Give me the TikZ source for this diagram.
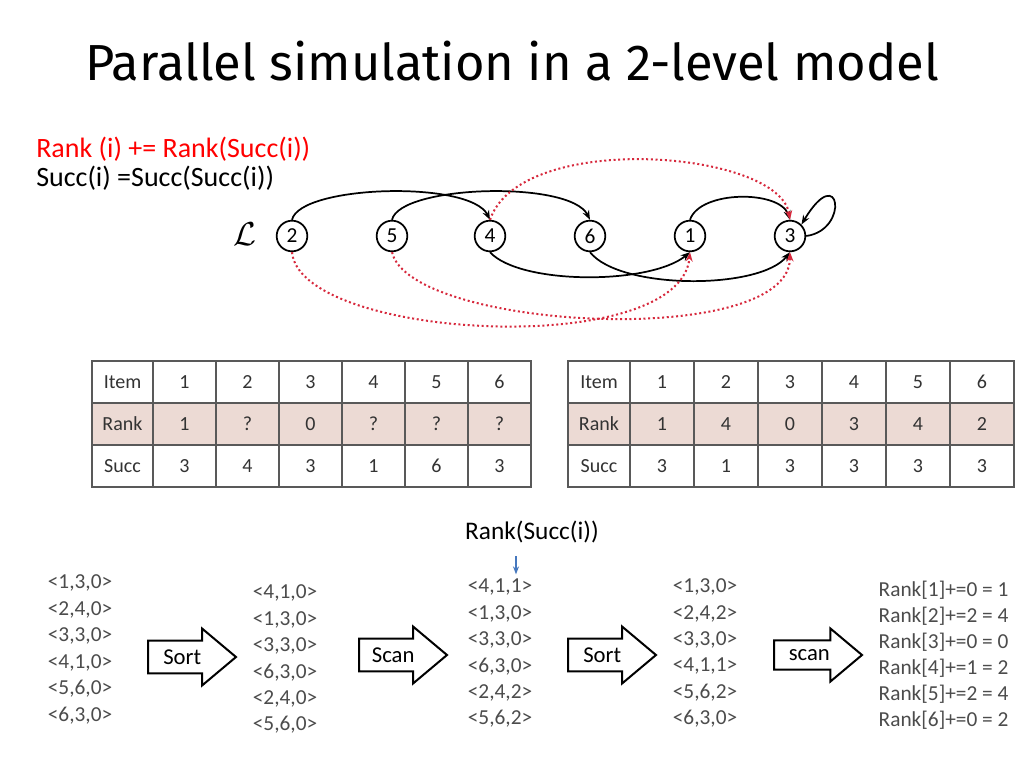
\documentclass[tikz,border=0pt]{standalone}
\usepackage{fontspec}
\setmainfont{Carlito}
\newfontfamily\titlefont{Fira Sans}
\usetikzlibrary{shapes.arrows,arrows.meta}
\definecolor{rankpink}{RGB}{236,218,212}
\definecolor{linered}{RGB}{215,40,60}
\definecolor{bluearr}{RGB}{70,120,190}
\begin{document}
\begin{tikzpicture}[x=0.75pt,y=-0.75pt,
  vtx/.style={circle,draw,line width=1.3pt,minimum size=23pt,inner sep=0pt,font=\fontsize{16}{16}\selectfont},
  blk/.style={-{Stealth[length=7pt]},line width=1.3pt},
  red/.style={-{Stealth[length=7pt]},linered,dotted,line width=1.5pt},
  cell/.style={draw,gray!70!black,thick,minimum width=47.25pt,minimum height=31.5pt,inner sep=0pt,font=\fontsize{15}{15}\selectfont,text=black!80},
  tup/.style={font=\fontsize{16}{16}\selectfont,text=black!70},
  barrow/.style={single arrow,draw,line width=1.5pt,single arrow head extend=9pt,single arrow tip angle=80,inner xsep=3pt,inner ysep=6pt,minimum height=66pt,font=\fontsize{17}{17}\selectfont,anchor=west}]
\useasboundingbox (0,0) rectangle (1024,768);
\fill[white] (0,0) rectangle (1024,768);
\node[anchor=base west,inner sep=0pt,font=\titlefont\fontsize{38}{38}\selectfont] (title) at (85,80) {Parallel simulation in a 2-level model};
\node[anchor=base west,inner sep=0pt,text=red,font=\fontsize{21}{21}\selectfont] (h1) at (36,157) {Rank (i) += Rank(Succ(i))};
\node[anchor=base west,inner sep=0pt,font=\fontsize{21}{21}\selectfont] (h2) at (36,186) {Succ(i) =Succ(Succ(i))};
% graph
\node[font=\fontsize{28}{28}\selectfont] (L) at (245,234) {$\mathcal{L}$};
\foreach \n/\x in {2/292,5/392,4/490,6/590,1/690,3/790} \node[vtx] (v\n) at (\x,236) {\n};
\draw[blk] (v2.north) .. controls (300,185) and (470,180) .. (v4.north);
\draw[blk] (v5.north) .. controls (400,185) and (570,180) .. (v6.north);
\draw[blk] (v4.south) .. controls (520,285) and (650,285) .. (v1.south);
\draw[blk] (v6.south) .. controls (620,290) and (760,290) .. (v3.south);
\draw[blk] (v1.north) .. controls (700,190) and (780,190) .. (v3.north);
\draw[blk] (v3.east) .. controls (850,230) and (840,160) .. (v3.north east);
\draw[red] (v2.south) .. controls (300,340) and (680,360) .. (v1.south);
\draw[red] (v5.south) .. controls (410,330) and (790,350) .. (v3.south);
\draw[red] (v4.north) .. controls (520,130) and (780,150) .. (v3.north);
% tables
\fill[rankpink] (92,403) rectangle (532,445);
\fill[rankpink] (568,403) rectangle (1014,445);
\foreach \r/\y/\lab in {0/382/Item,1/424/Rank,2/466/Succ}{
  \node[cell,minimum width=45.75pt] (La\r) at (122.5,\y) {\lab};
  \node[cell,minimum width=46.5pt] (Ra\r) at (599,\y) {\lab};
}
\foreach \c/\i/\rk/\sc in {1/1/1/3,2/2/?/4,3/3/0/3,4/4/?/1,5/5/?/6,6/6/?/3}{
  \node[cell] (L0\c) at (153+31.5+63*\c-63,382) {\i};
  \node[cell] (L1\c) at (153+31.5+63*\c-63,424) {\rk};
  \node[cell] (L2\c) at (153+31.5+63*\c-63,466) {\sc};
}
\foreach \c/\i/\rk/\sc in {1/1/1/3,2/2/4/1,3/3/0/3,4/4/3/3,5/5/4/3,6/6/2/3}{
  \node[cell,minimum width=48pt] (R0\c) at (630+32+64*\c-64,382) {\i};
  \node[cell,minimum width=48pt] (R1\c) at (630+32+64*\c-64,424) {\rk};
  \node[cell,minimum width=48pt] (R2\c) at (630+32+64*\c-64,466) {\sc};
}
% bottom
\node[font=\fontsize{19}{19}\selectfont] (rs) at (532,532) {Rank(Succ(i))};
\foreach \t [count=\k] in {{<1,3,0>},{<2,4,0>},{<3,3,0>},{<4,1,0>},{<5,6,0>},{<6,3,0>}}
  \node[tup] (a\k) at (80,557+26.4*\k) {\t};
\foreach \t [count=\k] in {{<4,1,0>},{<1,3,0>},{<3,3,0>},{<6,3,0>},{<2,4,0>},{<5,6,0>}}
  \node[tup] (b\k) at (285,567+26.3*\k) {\t};
\foreach \t [count=\k] in {{<4,1,1>},{<1,3,0>},{<3,3,0>},{<6,3,0>},{<2,4,2>},{<5,6,2>}}
  \node[tup] (c\k) at (500,561+26.3*\k) {\t};
\foreach \t [count=\k] in {{<1,3,0>},{<2,4,2>},{<3,3,0>},{<4,1,1>},{<5,6,2>},{<6,3,0>}}
  \node[tup] (d\k) at (705,561+26.3*\k) {\t};
\foreach \t [count=\k] in {{Rank[1]+=0 = 1},{Rank[2]+=2 = 4},{Rank[3]+=0 = 0},{Rank[4]+=1 = 2},{Rank[5]+=2 = 4},{Rank[6]+=0 = 2}}
  \node[tup,anchor=west] (e\k) at (874,564+26.1*\k) {\t};
\coordinate (arrtop) at (516,556);
\draw[-{Stealth[length=6pt]},bluearr,line width=1.2pt] (arrtop) -- (c1.north -| arrtop);
\node[barrow] (s1) at (147,657) {Sort};
\node[barrow] (s2) at (358,655) {Scan};
\node[barrow] (s3) at (567,655) {Sort};
\node[barrow] (s4) at (773,655) {scan};
\end{tikzpicture}
\end{document}
